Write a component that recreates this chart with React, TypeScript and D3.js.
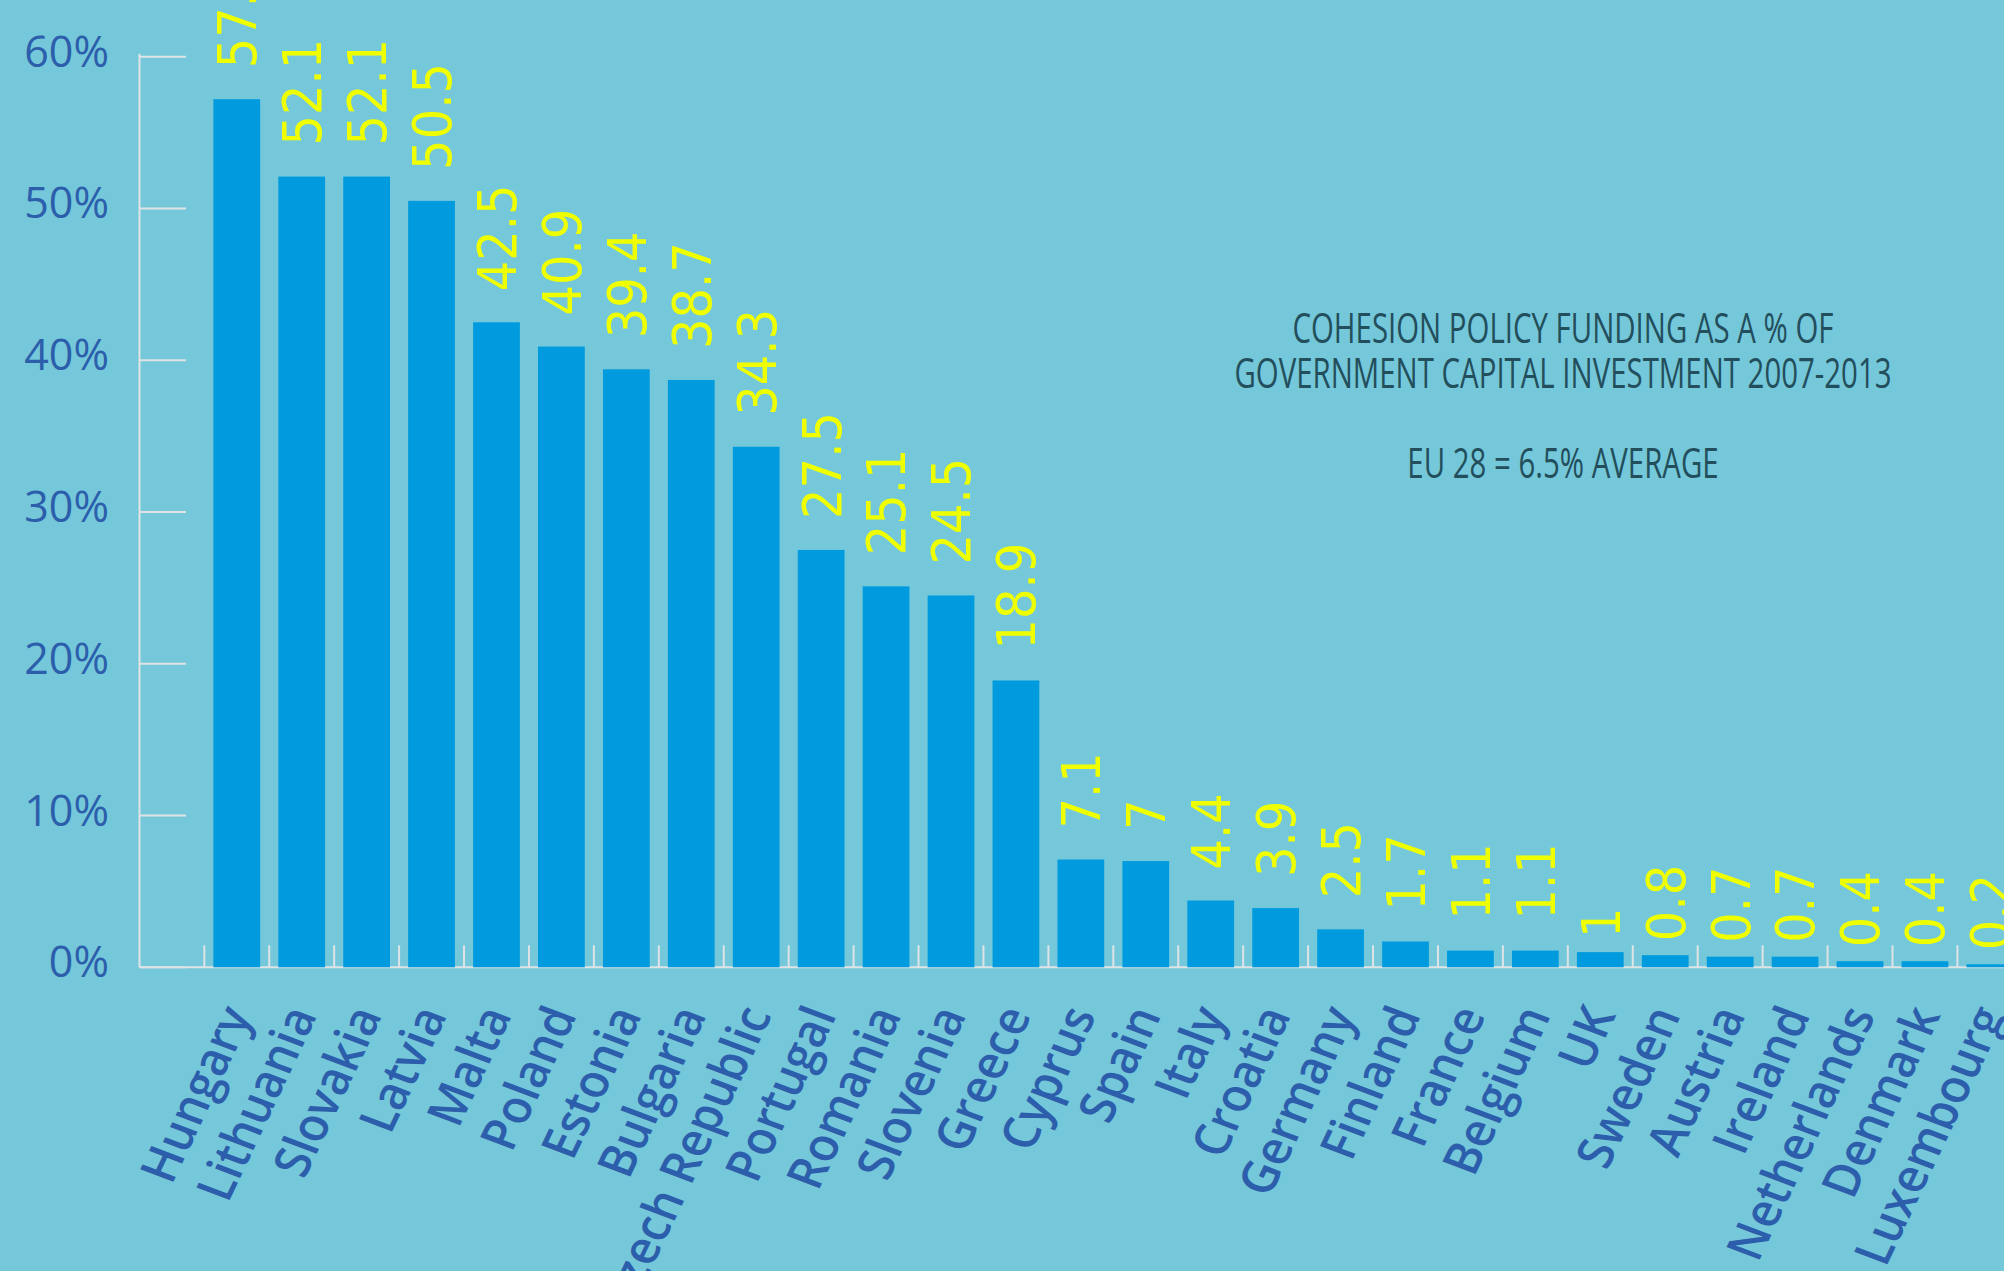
import React, { useEffect, useRef } from "react";
import * as d3 from "d3";

// cohesion policy funding as % of government capital investment, 2007-2013
const countries = [
  "Hungary", "Lithuania", "Slovakia", "Latvia", "Malta", "Poland", "Estonia",
  "Bulgaria", "Czech Republic", "Portugal", "Romania", "Slovenia", "Greece",
  "Cyprus", "Spain", "Italy", "Croatia", "Germany", "Finland", "France",
  "Belgium", "UK", "Sweden", "Austria", "Ireland", "Netherlands", "Denmark",
  "Luxembourg",
];
const shares = [
  57.2, 52.1, 52.1, 50.5, 42.5, 40.9, 39.4, 38.7, 34.3, 27.5, 25.1, 24.5, 18.9,
  7.1, 7, 4.4, 3.9, 2.5, 1.7, 1.1, 1.1, 1, 0.8, 0.7, 0.7, 0.4, 0.4, 0.2,
];
const yTicks = [0, 10, 20, 30, 40, 50, 60];
const titleLines = [
  "COHESION POLICY FUNDING AS A % OF",
  "GOVERNMENT CAPITAL INVESTMENT 2007-2013",
];
const avgNote = "EU 28 = 6.5% AVERAGE";

const W = 2004;
const H = 1271;
const STRETCH = 1.12; // original chart looks stretched sideways

export default function App() {
  const svgRef = useRef<SVGSVGElement>(null);

  useEffect(() => {
    const svg = d3.select(svgRef.current);
    svg.selectAll("*").remove();

    const axisX = 139.5;
    const x0 = 204.3;
    const step = 64.93;

    const x = d3.scaleBand<string>()
      .domain(countries)
      .range([x0, x0 + step * countries.length])
      .paddingInner(0.28)
      .paddingOuter(0.14);

    const y = d3.scaleLinear().domain([0, 60]).range([967.3, 56.7]);
    const bw = x.bandwidth();
    const gapX = (x.step() - bw) / 2;

    svg.append("rect").attr("width", W).attr("height", H).attr("fill", "#74c8da");

    const axisColor = "#dfe3e6";

    // y axis
    svg.append("line")
      .attr("x1", axisX).attr("x2", axisX)
      .attr("y1", y(60) - 3).attr("y2", y(0))
      .attr("stroke", axisColor).attr("stroke-width", 2);

    svg.selectAll(".ytick")
      .data(yTicks)
      .enter()
      .append("line")
      .attr("x1", axisX).attr("x2", 186)
      .attr("y1", d => y(d)).attr("y2", d => y(d))
      .attr("stroke", axisColor).attr("stroke-width", 2);

    svg.selectAll(".ylab")
      .data(yTicks)
      .enter()
      .append("text")
      .attr("x", 109)
      .attr("y", d => y(d) + 10)
      .attr("text-anchor", "end")
      .attr("font-family", "Open Sans")
      .attr("font-size", 43)
      .attr("fill", "#2c5eac")
      .text(d => d + "%");

    // x axis
    svg.append("line")
      .attr("x1", axisX).attr("x2", W)
      .attr("y1", y(0)).attr("y2", y(0))
      .attr("stroke", axisColor).attr("stroke-width", 2);

    svg.selectAll(".xtick")
      .data(countries)
      .enter()
      .append("line")
      .attr("x1", d => x(d)! - gapX).attr("x2", d => x(d)! - gapX)
      .attr("y1", y(0) - 22).attr("y2", y(0))
      .attr("stroke", axisColor).attr("stroke-width", 2);

    // bars
    svg.selectAll(".bar")
      .data(countries)
      .enter()
      .append("rect")
      .attr("x", d => x(d)!)
      .attr("y", (d, i) => y(shares[i]))
      .attr("width", bw)
      .attr("height", (d, i) => y(0) - y(shares[i]))
      .attr("fill", "#009bde");

    // value labels
    svg.selectAll(".val")
      .data(countries)
      .enter()
      .append("text")
      .attr("transform", (d, i) => {
        const gap = shares[i] <= 1 ? 14 : 31;
        return `translate(${x(d)! + bw / 2}, ${y(shares[i]) - gap}) scale(${STRETCH},1) rotate(-90)`;
      })
      .attr("dy", "0.36em")
      .attr("font-family", "DejaVu Sans")
      .attr("font-size", 48)
      .attr("fill", "#f0ff00")
      .text((d, i) => String(shares[i]));

    // category labels
    svg.selectAll(".cat")
      .data(countries)
      .enter()
      .append("text")
      .attr("transform", d => `translate(${x(d)! + bw / 2 + 16}, 1015) scale(${STRETCH},1) rotate(-67)`)
      .attr("text-anchor", "end")
      .attr("font-family", "Open Sans")
      .attr("font-weight", 600)
      .attr("font-size", 45)
      .attr("fill", "#2c5eac")
      .text(d => d);

    // title block
    const cx = 1563;
    [...titleLines, "", avgNote].forEach((t, i) => {
      if (!t) return;
      svg.append("text")
        .attr("transform", `translate(${cx}, ${343 + i * 45}) scale(0.70,1)`)
        .attr("text-anchor", "middle")
        .attr("font-family", "Open Sans")
        .attr("font-size", 42)
        .attr("fill", "#234e5c")
        .text(t);
    });
  }, []);

  return (
    <svg
      ref={svgRef}
      width={W}
      height={H}
      style={{ position: "absolute", left: 0, top: 0, display: "block" }}
    />
  );
}
